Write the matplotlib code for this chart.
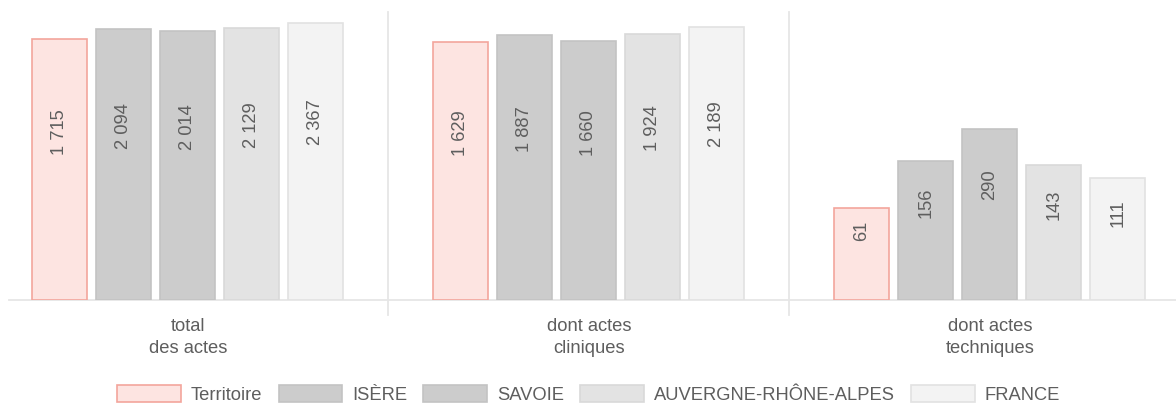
import numpy as np
import matplotlib
matplotlib.use("Agg")
import matplotlib.pyplot as plt
from matplotlib.patches import Patch
import matplotlib.transforms as mtransforms

# ---- data ----
categories = ["total\ndes actes", "dont actes\ncliniques", "dont actes\ntechniques"]
series_names = ["Territoire", "ISÈRE", "SAVOIE", "AUVERGNE-RHÔNE-ALPES", "FRANCE"]
territoire = [1715, 1629, 61]
isere = [2094, 1887, 156]
savoie = [2014, 1660, 290]
aura = [2129, 1924, 143]
france = [2367, 2189, 111]
series_values = [territoire, isere, savoie, aura, france]

face_colors = ["#fde4e1", "#cccccc", "#cccccc", "#e3e3e3", "#f3f3f3"]
edge_colors = ["#f3a59c", "#c3c3c3", "#c3c3c3", "#d9d9d9", "#e2e2e2"]

plt.rcParams['font.family'] = ['Liberation Sans', 'DejaVu Sans']

W, H = 1176, 405
fig = plt.figure(figsize=(W / 100, H / 100), dpi=100)
ax_left, ax_right, ax_top, ax_bot = 9, 1176, 12, 300
ax = fig.add_axes([ax_left / W, (H - ax_bot) / H, (ax_right - ax_left) / W, (ax_bot - ax_top) / H])

ymin = 10
ymax = 10 * np.exp((ax_bot - ax_top) / 50.65)
ax.set_yscale("log")
ax.set_ylim(ymin, ymax)
ax.set_xlim(-0.446, 2.464)

x = np.arange(len(categories))
bw = 57 / 401
step = 64 / 401
text_color = "#5e5e5e"
trans = mtransforms.blended_transform_factory(ax.transData, ax.transAxes)
lspan = np.log(ymax) - np.log(ymin)

for k, (name, vals) in enumerate(zip(series_names, series_values)):
    vals = np.array(vals, dtype=float)
    xs = x + (k - 2) * step
    ax.bar(xs, vals - ymin, bottom=ymin, width=bw - 2 / 401, color=face_colors[k],
           edgecolor=edge_colors[k], linewidth=1.2, zorder=3)
    for xi, v in zip(xs, vals):
        hfrac = (np.log(v) - np.log(ymin)) / lspan
        yc = 16 / 288 + 0.584 * hfrac
        lab = f"{int(v):,}".replace(",", " ")
        ax.text(xi, yc, lab, transform=trans, rotation=90, ha="center", va="center",
                fontsize=13.2, color=text_color, zorder=4)

# baseline and separators
ax.axhline(ymin, color="#e6e6e6", lw=1.3, zorder=2, clip_on=False)
for sx in [0.5, 1.5]:
    ax.plot([sx, sx], [-15 / 288, 1.0], transform=trans, color="#e6e6e6", lw=1.3,
            clip_on=False, zorder=1)

for xi, c in zip(x, categories):
    ax.text(xi, -18 / 288, c, transform=trans, ha="center", va="top", fontsize=13.2,
            color=text_color, linespacing=1.4)

for s in ax.spines.values():
    s.set_visible(False)
ax.set_xticks([])
ax.set_yticks([])
ax.minorticks_off()
ax.yaxis.set_minor_locator(matplotlib.ticker.NullLocator())

handles = [Patch(facecolor=face_colors[k], edgecolor=edge_colors[k], linewidth=1.2)
           for k in range(len(series_names))]
fig.legend(handles, series_names, loc="center", bbox_to_anchor=(588.5 / W, (H - 394.5) / H),
           ncol=5, frameon=False, fontsize=13.2, handlelength=3.46, handleheight=1.03,
           handletextpad=0.54, columnspacing=0.9, labelcolor=text_color,
           borderpad=0, borderaxespad=0)

fig.savefig("out.png", dpi=100)
